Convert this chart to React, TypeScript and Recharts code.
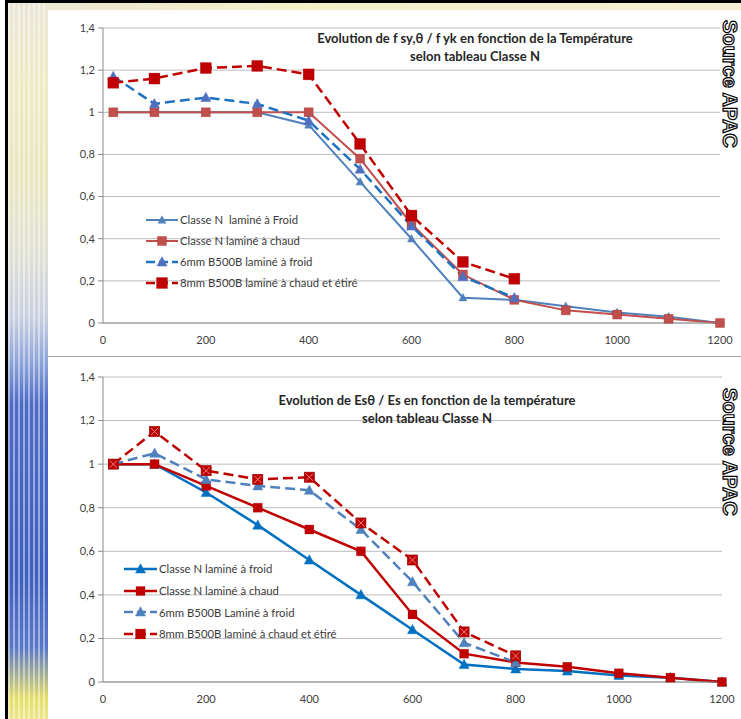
import React from 'react';
import { LineChart, Line, XAxis, YAxis, CartesianGrid, Legend } from 'recharts';

// ---------- DATA ----------
const temperatures = [20, 100, 200, 300, 400, 500, 600, 700, 800, 900, 1000, 1100, 1200];
const xTicks = [0, 200, 400, 600, 800, 1000, 1200];
const yTicks = [0, 0.2, 0.4, 0.6, 0.8, 1, 1.2, 1.4];

// Chart 1 : f sy,θ / f yk
const fyColdN = [1, 1, 1, 1, 0.94, 0.67, 0.4, 0.12, 0.11, 0.08, 0.05, 0.03, 0];
const fyHotN = [1, 1, 1, 1, 1, 0.78, 0.47, 0.23, 0.11, 0.06, 0.04, 0.02, 0];
const fy6mmCold = [1.17, 1.04, 1.07, 1.04, 0.96, 0.73, 0.46, 0.22, 0.12];
const fy8mmHot = [1.14, 1.16, 1.21, 1.22, 1.18, 0.85, 0.51, 0.29, 0.21];

// Chart 2 : Esθ / Es
const esColdN = [1, 1, 0.87, 0.72, 0.56, 0.4, 0.24, 0.08, 0.06, 0.05, 0.03, 0.02, 0];
const esHotN = [1, 1, 0.9, 0.8, 0.7, 0.6, 0.31, 0.13, 0.09, 0.07, 0.04, 0.02, 0];
const es6mmCold = [1, 1.05, 0.93, 0.9, 0.88, 0.7, 0.46, 0.18, 0.09];
const es8mmHot = [1, 1.15, 0.97, 0.93, 0.94, 0.73, 0.56, 0.23, 0.12];

const title1 = ['Evolution de f sy,θ / f yk en fonction de la Température', 'selon tableau Classe N'];
const title2 = ['Evolution de Esθ / Es en fonction de la température', 'selon tableau Classe N'];
const sourceLabel = 'Source APAC';

type MarkerKind = 'triangle' | 'square' | 'crossSquare';
type SeriesDef = {
  key: string;
  name: string;
  values: number[];
  color: string;
  markerColor: string;
  width: number;
  dash?: string;
  marker: MarkerKind;
  size: number;
  legendMarker?: MarkerKind;
};

const series1: SeriesDef[] = [
  { key: 'a', name: 'Classe N  laminé à Froid', values: fyColdN, color: '#4F81BD', markerColor: '#4F81BD', width: 2, marker: 'triangle', size: 8 },
  { key: 'b', name: 'Classe N laminé à chaud', values: fyHotN, color: '#C0504D', markerColor: '#C0504D', width: 2, marker: 'square', size: 9 },
  { key: 'c', name: '6mm B500B laminé à froid', values: fy6mmCold, color: '#1F72C0', markerColor: '#4F6FBF', width: 2.5, dash: '10 5', marker: 'triangle', size: 10 },
  { key: 'd', name: '8mm B500B laminé à chaud et étiré', values: fy8mmHot, color: '#C00000', markerColor: '#C00000', width: 2.5, dash: '10 5', marker: 'square', size: 11 },
];

const series2: SeriesDef[] = [
  { key: 'a', name: 'Classe N laminé à froid', values: esColdN, color: '#0070C0', markerColor: '#0070C0', width: 2.5, marker: 'triangle', size: 10 },
  { key: 'b', name: 'Classe N laminé à chaud', values: esHotN, color: '#C00000', markerColor: '#C00000', width: 2.5, marker: 'square', size: 9 },
  { key: 'c', name: '6mm B500B Laminé à froid', values: es6mmCold, color: '#4F81BD', markerColor: '#4F81BD', width: 2.5, dash: '10 5', marker: 'triangle', size: 10 },
  { key: 'd', name: '8mm B500B laminé à chaud et étiré', values: es8mmHot, color: '#C00000', markerColor: '#C00000', width: 2.5, dash: '10 5', marker: 'crossSquare', size: 10, legendMarker: 'square' },
];

function buildRows(series: SeriesDef[]) {
  return temperatures.map((t, i) => {
    const row: Record<string, number | null> = { t };
    series.forEach((s) => {
      row[s.key] = i < s.values.length ? s.values[i] : null;
    });
    return row;
  });
}

const FONT = 'Lato, "Open Sans", "DejaVu Sans", sans-serif';

function MarkerShape({ kind, cx, cy, size, color }: { kind: MarkerKind; cx: number; cy: number; size: number; color: string }) {
  const h = size / 2;
  if (kind === 'triangle') {
    return (
      <polygon
        points={`${cx},${cy - h * 1.05} ${cx + h},${cy + h * 0.8} ${cx - h},${cy + h * 0.8}`}
        fill={color}
        stroke={color}
        strokeWidth={0.5}
      />
    );
  }
  if (kind === 'square') {
    return <rect x={cx - h} y={cy - h} width={size} height={size} fill={color} stroke="#A00000" strokeOpacity={0.35} strokeWidth={0.7} />;
  }
  return (
    <g>
      <rect x={cx - h} y={cy - h} width={size} height={size} fill={color} stroke="#9A0000" strokeWidth={0.7} />
      <line x1={cx - h + 1.5} y1={cy - h + 1.5} x2={cx + h - 1.5} y2={cy + h - 1.5} stroke="#F08080" strokeWidth={1} />
      <line x1={cx + h - 1.5} y1={cy - h + 1.5} x2={cx - h + 1.5} y2={cy + h - 1.5} stroke="#F08080" strokeWidth={1} />
    </g>
  );
}

const makeDot = (s: SeriesDef) => (props: any) => {
  const { cx, cy, index, value } = props;
  const k = `${s.key}-dot-${index}`;
  if (cx == null || cy == null || value == null || (Array.isArray(value) && value[1] == null)) return <g key={k} />;
  return (
    <g key={k}>
      <MarkerShape kind={s.marker} cx={cx} cy={cy} size={s.size} color={s.markerColor} />
    </g>
  );
};

const fmt = (v: number) => String(Math.round(v * 10) / 10).replace('.', ',');

function LegendBox({ series, sampleW, rowH }: { series: SeriesDef[]; sampleW: number; rowH: number }) {
  return (
    <div style={{ fontFamily: FONT, fontSize: 11.3, color: '#3A3A3A' }}>
      {series.map((s) => (
        <div key={s.key} style={{ display: 'flex', alignItems: 'center', height: rowH, whiteSpace: 'pre' }}>
          <svg width={sampleW} height={14} style={{ display: 'block', marginRight: 2 }}>
            <line x1={0} y1={7} x2={sampleW} y2={7} stroke={s.color} strokeWidth={s.width} strokeDasharray={s.dash ? '9 4' : undefined} />
            <MarkerShape kind={s.legendMarker ?? s.marker} cx={sampleW / 2} cy={7} size={s.size} color={s.markerColor} />
          </svg>
          <span>{s.name}</span>
        </div>
      ))}
    </div>
  );
}

type ChartProps = {
  series: SeriesDef[];
  width: number;
  height: number;
  margin: { top: number; right: number; bottom: number; left: number };
  legendLeft: number;
  legendTop: number;
  sampleW: number;
  rowH: number;
};

function TempChart({ series, width, height, margin, legendLeft, legendTop, sampleW, rowH }: ChartProps) {
  const data = buildRows(series);
  return (
    <LineChart width={width} height={height} data={data} margin={margin}>
      <CartesianGrid vertical={false} stroke="#BDBDBD" strokeWidth={1} />
      <XAxis
        dataKey="t"
        type="number"
        domain={[0, 1200]}
        ticks={xTicks}
        axisLine={{ stroke: '#8C8C8C' }}
        tickLine={false}
        tickMargin={7}
        height={30}
        tick={{ fontSize: 11, fill: '#404040', fontFamily: FONT }}
      />
      <YAxis
        type="number"
        domain={[0, 1.4]}
        ticks={yTicks}
        tickFormatter={fmt}
        width={55}
        axisLine={{ stroke: '#8C8C8C' }}
        tickLine={{ stroke: '#8C8C8C' }}
        tickSize={5}
        tickMargin={3}
        tick={{ fontSize: 11, fill: '#404040', fontFamily: FONT }}
      />
      {series.map((s) => (
        <Line
          key={s.key}
          dataKey={s.key}
          name={s.name}
          type="linear"
          stroke={s.color}
          strokeWidth={s.width}
          strokeDasharray={s.dash}
          dot={makeDot(s)}
          activeDot={false}
          connectNulls={false}
          isAnimationActive={false}
        />
      ))}
      <Legend
        layout="vertical"
        align="center"
        verticalAlign="middle"
        wrapperStyle={{ left: legendLeft, top: legendTop, width: 'auto' }}
        content={() => <LegendBox series={series} sampleW={sampleW} rowH={rowH} />}
      />
    </LineChart>
  );
}

const stripBg = [
  'repeating-linear-gradient(90deg, rgba(255,255,255,0.45) 0px, rgba(255,255,255,0.45) 2px, rgba(255,255,255,0) 2px, rgba(255,255,255,0) 5px)',
  'linear-gradient(to bottom, #EAE6D6 0%, #EEEBC4 12%, #E9E6BE 24%, #E2E2D4 34%, #C9CFE0 44%, #8FA6DA 50%, #4D6BC6 56%, #3E5EC0 80%, #5A78C8 90%, #E4DE6A 97%, #EDE78A 100%)',
].join(', ');

export default function App() {
  const titleStyle: React.CSSProperties = {
    position: 'absolute',
    fontFamily: FONT,
    fontWeight: 700,
    fontSize: 13,
    color: '#262626',
    textAlign: 'center',
    whiteSpace: 'nowrap',
    lineHeight: '18px',
  };
  const sourceStyle: React.CSSProperties = {
    position: 'absolute',
    writingMode: 'vertical-rl',
    fontFamily: '"Liberation Sans", Arial, sans-serif',
    fontWeight: 700,
    fontSize: 20,
    lineHeight: '22px',
    color: '#FFFFFF',
    WebkitTextStroke: '1.2px #000000',
    whiteSpace: 'nowrap',
  };
  return (
    <div style={{ position: 'absolute', left: 0, top: 0, width: 741, height: 719, background: '#FFFFFF', overflow: 'hidden' }}>
      {/* frame */}
      <div style={{ position: 'absolute', left: 5, top: 0, width: 736, height: 3, background: '#000' }} />
      <div style={{ position: 'absolute', left: 8, top: 3, width: 733, height: 7, background: 'linear-gradient(to right, #E9E4D0, #F4F0C8 40%, #F3EFD2)' }} />
      <div style={{ position: 'absolute', left: 5, top: 0, width: 3, height: 719, background: '#000' }} />
      <div style={{ position: 'absolute', left: 8, top: 3, width: 40, height: 716, background: stripBg }} />
      <div style={{ position: 'absolute', left: 48, top: 356, width: 693, height: 1, background: '#A6A6A6' }} />

      {/* top chart */}
      <div style={{ position: 'absolute', left: 48, top: 10 }}>
        <TempChart
          series={series1}
          width={693}
          height={345}
          margin={{ top: 18, right: 21, bottom: 2, left: 0 }}
          legendLeft={98}
          legendTop={199}
          sampleW={32}
          rowH={21}
        />
      </div>
      <div style={{ ...titleStyle, left: 275, width: 400, top: 29 }}>
        {title1[0]}
        <br />
        {title1[1]}
      </div>

      {/* bottom chart */}
      <div style={{ position: 'absolute', left: 48, top: 357 }}>
        <TempChart
          series={series2}
          width={693}
          height={362}
          margin={{ top: 20, right: 19, bottom: 7, left: 0 }}
          legendLeft={76}
          legendTop={201}
          sampleW={33}
          rowH={21.7}
        />
      </div>
      <div style={{ ...titleStyle, left: 227, width: 400, top: 391 }}>
        {title2[0]}
        <br />
        {title2[1]}
      </div>

      <div style={{ ...sourceStyle, left: 719, top: 20 }}>{sourceLabel}</div>
      <div style={{ ...sourceStyle, left: 719, top: 388 }}>{sourceLabel}</div>
    </div>
  );
}
